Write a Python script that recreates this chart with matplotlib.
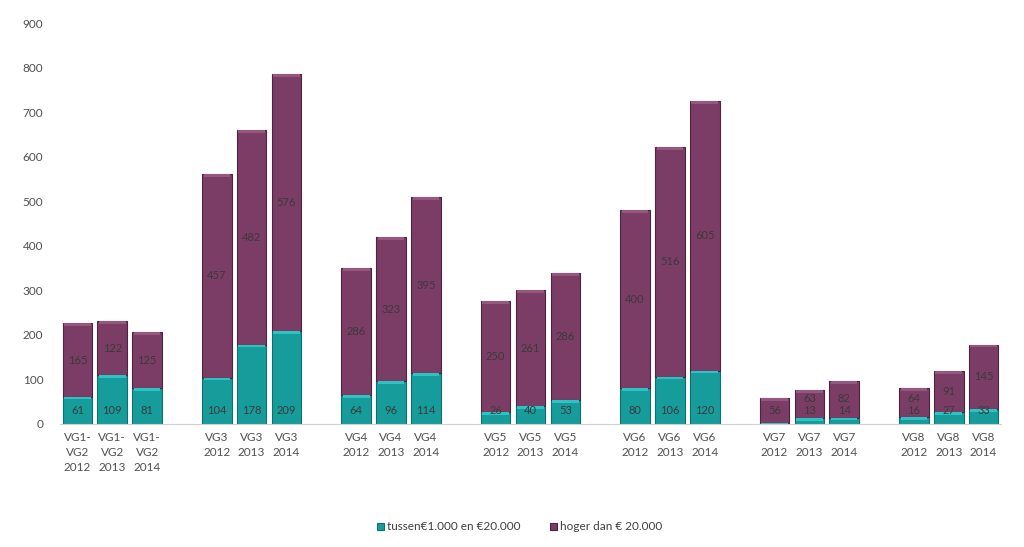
import matplotlib
matplotlib.use("Agg")
import matplotlib.pyplot as plt
import numpy as np

plt.rcParams['font.family'] = ['Lato', 'DejaVu Sans']

groups = ["VG1-\nVG2", "VG3", "VG4", "VG5", "VG6", "VG7", "VG8"]
years = ["2012", "2013", "2014"]
teal_vals = [61, 109, 81, 104, 178, 209, 64, 96, 114, 26, 40, 53, 80, 106, 120, 2, 13, 14, 16, 27, 33]
purple_vals = [165, 122, 125, 457, 482, 576, 286, 323, 395, 250, 261, 286, 400, 516, 605, 56, 63, 82, 64, 91, 145]
series_names = ["tussen\u20ac1.000 en \u20ac20.000", "hoger dan \u20ac 20.000"]

teal_c = "#179c9c"
purple_c = "#7b3d66"

labels = []
pos = []
for gi, g in enumerate(groups):
    for yi, y in enumerate(years):
        labels.append(f"{g}\n{y}")
        pos.append(gi * 4 + yi)
pos = np.array(pos, dtype=float)
teal = np.array(teal_vals)
purple = np.array(purple_vals)

fig = plt.figure(figsize=(10.24, 5.47), dpi=100)
ax = fig.add_axes([60/1024, 1 - 424/547, (1001-60)/1024, (424-23)/547])

w = 0.85
b1 = ax.bar(pos, teal, width=w, color=teal_c, edgecolor="#0f6e6e", linewidth=0.8, label=series_names[0])
b2 = ax.bar(pos, purple, width=w, bottom=teal, color=purple_c, edgecolor="#4a2540", linewidth=0.8, label=series_names[1])

# subtle top highlights
ax.bar(pos, np.minimum(teal, 6), width=w*0.9, bottom=teal - np.minimum(teal, 6), color="#2cc4c2", linewidth=0)
ax.bar(pos, 6, width=w*0.9, bottom=teal + purple - 6, color="#94587f", linewidth=0)

lab_c = "#3a3a3a"
teal_lab_y = 31
for x, t, p in zip(pos, teal, purple):
    py = t + p / 2
    if t >= 10:
        ax.text(x, teal_lab_y, str(t), ha="center", va="center", fontsize=8, color=lab_c)
        py = max(py, teal_lab_y + 26)
    ax.text(x, py, str(p), ha="center", va="center", fontsize=8, color=lab_c)

ax.set_xlim(-0.5, 26.5)
ax.set_ylim(0, 900)
ax.set_yticks(np.arange(0, 901, 100))
ax.set_xticks(pos)
ax.set_xticklabels(labels, fontsize=8.5, color="#505050", linespacing=1.45)
ax.tick_params(axis="y", labelsize=8.5, colors="#505050", length=0, pad=12)
ax.tick_params(axis="x", length=0, pad=6)
for s in ["top", "right", "left"]:
    ax.spines[s].set_visible(False)
ax.spines["bottom"].set_color("#d0d0d0")

fig.legend(handles=[b1, b2], labels=series_names, loc="center", bbox_to_anchor=(520/1024, 1 - 527/547),
           ncol=2, frameon=False, fontsize=8.5, handlelength=0.55, handleheight=0.55, columnspacing=2.5,
           handletextpad=0.3, labelcolor="#404040")

fig.savefig("out.png", dpi=100, facecolor="white")
